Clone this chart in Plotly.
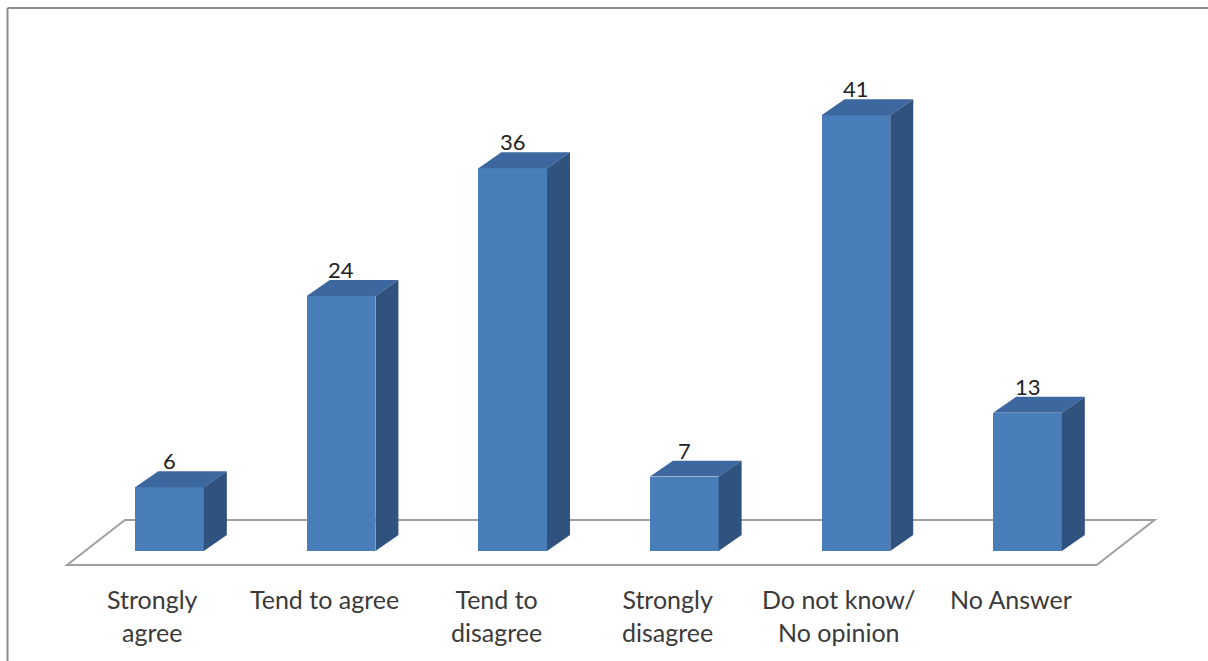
import plotly.graph_objects as go

# Survey responses
categories = ["Strongly<br>agree", "Tend to agree", "Tend to<br>disagree",
              "Strongly<br>disagree", "Do not know/<br>No opinion", "No Answer"]
values = [6, 24, 36, 7, 41, 13]

# Styling / pseudo-3D geometry (in axis units)
FRONT = "#4a7ebb"
TOP = "#3d679f"
SIDE = "#30527f"
BAR_W = 0.40
DEPTH_X = 0.134
DEPTH_Y = 1.5
FLOOR_FRONT = (-0.097, -1.32)   # offset of the floor's front edge from bar bases
FLOOR_BACK = (0.24, 2.92)       # offset of the floor's back edge

xs = list(range(len(values)))
n = len(values)

fig = go.Figure()

# floor parallelogram, kept beneath all traces
fx0, fy0 = -0.5 + FLOOR_FRONT[0], FLOOR_FRONT[1]
fx1 = n - 0.5 + FLOOR_FRONT[0]
bx0, by0 = -0.5 + FLOOR_BACK[0], FLOOR_BACK[1]
bx1 = n - 0.5 + FLOOR_BACK[0]
fig.add_shape(type="path", xref="x", yref="y", layer="below",
              path=f"M {fx0},{fy0} L {fx1},{fy0} L {bx1},{by0} L {bx0},{by0} Z",
              fillcolor="white", line=dict(color="#a0a0a0", width=2))

# front faces
fig.add_trace(go.Bar(x=xs, y=values, width=BAR_W, base=0,
                     marker=dict(color=FRONT, line=dict(width=0)),
                     showlegend=False))

# top and side faces
for x, v in zip(xs, values):
    l, r = x - BAR_W / 2, x + BAR_W / 2
    fig.add_trace(go.Scatter(
        x=[l, r, r + DEPTH_X, l + DEPTH_X, l],
        y=[v, v, v + DEPTH_Y, v + DEPTH_Y, v],
        mode="lines", fill="toself", fillcolor=TOP, line=dict(width=0, color=TOP),
        hoverinfo="skip", showlegend=False))
    fig.add_trace(go.Scatter(
        x=[r, r + DEPTH_X, r + DEPTH_X, r, r],
        y=[0, DEPTH_Y, v + DEPTH_Y, v, 0],
        mode="lines", fill="toself", fillcolor=SIDE, line=dict(width=0, color=SIDE),
        hoverinfo="skip", showlegend=False))
    fig.add_annotation(x=x, y=v + DEPTH_Y, text=str(v), showarrow=False,
                       yanchor="bottom", yshift=-5,
                       font=dict(family="Lato", size=22, color="#222222"))

# category labels along the floor's front edge
for x, c in zip(xs, categories):
    fig.add_annotation(x=x + FLOOR_FRONT[0], y=fy0, text=c, showarrow=False,
                       yanchor="top", yshift=-17,
                       font=dict(family="Lato", size=25, color="#3a3a3a"))

# outer frame (top and left edges)
fig.add_shape(type="line", xref="paper", yref="paper",
              x0=7.5 / 1208, x1=1, y0=1 - 8 / 661, y1=1 - 8 / 661,
              line=dict(color="#8c8c8c", width=2))
fig.add_shape(type="line", xref="paper", yref="paper",
              x0=7.5 / 1208, x1=7.5 / 1208, y0=0, y1=1 - 8 / 661,
              line=dict(color="#8c8c8c", width=2))

fig.update_layout(
    width=1208, height=661,
    margin=dict(l=0, r=0, t=0, b=0),
    paper_bgcolor="white", plot_bgcolor="white",
    xaxis=dict(range=[-0.9878, 6.0518], visible=False, fixedrange=True),
    yaxis=dict(range=[-10.348, 51.834], visible=False, fixedrange=True),
    bargap=0,
)

fig.write_html("out.html")
